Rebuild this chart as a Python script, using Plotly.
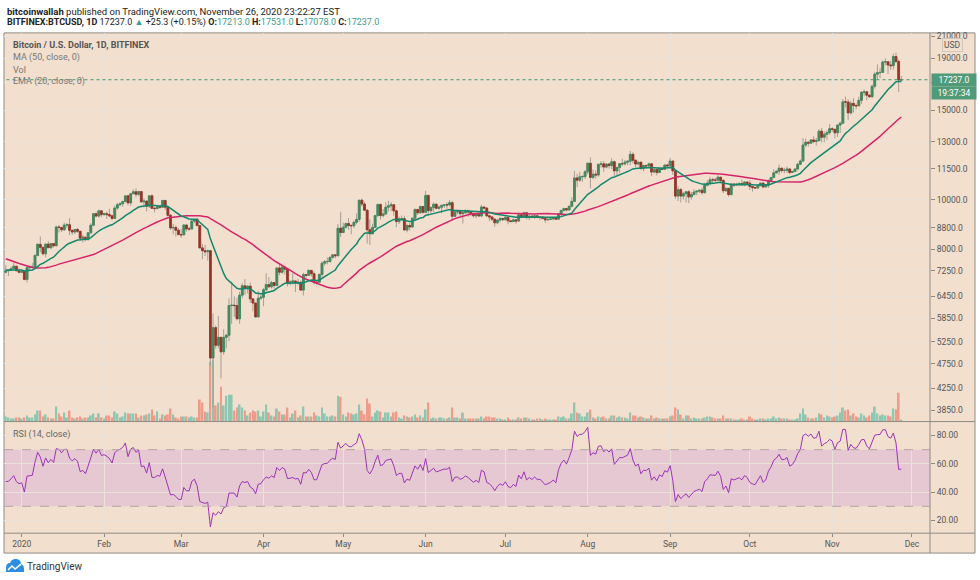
import numpy as np
import pandas as pd
import plotly.graph_objects as go

# ---------------- DATA (BITFINEX:BTCUSD, 1D) ----------------
# closes of the 50 sessions before the first visible candle (Nov 6 - Dec 25, 2019), used for MA/EMA/RSI warm-up
warmup_close = [9340, 9200, 8770, 8810, 9040, 8720, 8810, 8760, 8630, 8460, 8490, 8500, 8180, 8120, 8080,
                7620, 7280, 7330, 6900, 7150, 7170, 7520, 7430, 7760, 7570,
                7410, 7300, 7300, 7200, 7400, 7550, 7510, 7530, 7350, 7230, 7200, 7210, 7260, 7070, 7110,
                6880, 6620, 7290, 7150, 7190, 7150, 7520, 7320, 7260, 7200]

first_day = "2019-12-26"

open_ = (
    [7200, 7250, 7260, 7320, 7400, 7250] +
    [7200, 7220, 6970, 7350, 7360, 7370, 7770, 8170, 8060, 7830, 8180, 8050, 8200, 8120, 8840, 8820, 8730, 8920, 8930, 8710,
     8640, 8740, 8670, 8400, 8440, 8350, 8610, 8910, 9390, 9290, 9510] +
    [9350, 9390, 9350, 9300, 9190, 9630, 9780, 9820, 9920, 10180, 9860, 10280, 10370, 10250, 10380, 9910, 9940, 9710, 10180, 9620,
     9610, 9690, 9670, 9970, 9670, 9320, 8800, 8820, 8710] +
    [8540, 8530, 8920, 8760, 8760, 9080, 9160, 8900, 8040, 7940, 7900, 7940, 4880, 5600, 5170, 5360, 5020, 5360, 5410, 6190,
     6200, 6190, 5830, 6490, 6770, 6700, 6760, 6380, 6260, 5880, 6400] +
    [6430, 6650, 6810, 6740, 6870, 6780, 7340, 7200, 7370, 7300, 6870, 6890, 6920, 6860, 6880, 6640, 7120, 7100, 7260, 7150,
     6880, 6880, 7130, 7500, 7550, 7560, 7700, 7790, 7760, 8790] +
    [8620, 8830, 8980, 8900, 8890, 9030, 9150, 9980, 9810, 9540, 8730, 8570, 8820, 9310, 9790, 9310, 9380, 9670, 9730, 9780,
     9510, 9060, 9170, 9180, 8720, 8900, 8840, 9200, 9570, 9430, 9700] +
    [9450, 10200, 9520, 9660, 9800, 9620, 9670, 9750, 9780, 9770, 9870, 9280, 9470, 9480, 9390, 9430, 9520, 9460, 9380, 9300,
     9360, 9290, 9680, 9630, 9300, 9250, 9160, 9010, 9120, 9190] +
    [9140, 9230, 9090, 9060, 9130, 9080, 9340, 9250, 9430, 9230, 9290, 9240, 9300, 9240, 9250, 9190, 9130, 9150, 9170, 9210,
     9160, 9390, 9530, 9610, 9550, 9710, 9930, 11040, 10930, 11100, 11110] +
    [11350, 11800, 11070, 11230, 11190, 11740, 11770, 11600, 11760, 11680, 11880, 11400, 11580, 11780, 11770, 11860, 11910, 12290, 11960, 11760,
     11860, 11520, 11680, 11660, 11770, 11340, 11470, 11320, 11540, 11480, 11710] +
    [11660, 11920, 11400, 10170, 10470, 10170, 10280, 10370, 10130, 10240, 10360, 10400, 10440, 10330, 10680, 10790, 10950, 10940, 10930, 11080,
     10920, 10420, 10530, 10240, 10740, 10690, 10730, 10770, 10700, 10840] +
    [10780, 10620, 10570, 10550, 10670, 10790, 10600, 10670, 10920, 11060, 11300, 11380, 11540, 11420, 11430, 11500, 11320, 11370, 11500, 11750,
     11920, 12820, 12980, 12930, 13120, 13030, 13070, 13650, 13280, 13460, 13560] +
    [13800, 13760, 13550, 14030, 14150, 15590, 15580, 14830, 15480, 15330, 15310, 15700, 16280, 16320, 16070, 15960, 16730, 17680, 17800, 17820,
     18680, 18700, 18430, 18370, 19150, 18730, 17213]
)

high_ = (
    [7430, 7300, 7380, 7520, 7420, 7330] +
    [7260, 7230, 7410, 7420, 7510, 7800, 8220, 8470, 8070, 8190, 8290, 8200, 8200, 8900, 8920, 8840, 9020, 9000, 9200, 8720,
     8760, 8800, 8680, 8530, 8450, 8620, 8990, 9400, 9440, 9570, 9520] +
    [9440, 9480, 9600, 9340, 9740, 9860, 9880, 9960, 10190, 10180, 10300, 10480, 10530, 10400, 10390, 10070, 9970, 10200, 10260, 9680,
     9770, 9710, 9990, 10000, 9680, 9380, 8960, 8900, 8800] +
    [8760, 8960, 8940, 8850, 9150, 9180, 9200, 8900, 8180, 8150, 7980, 7960, 5970, 5660, 5900, 5370, 5560, 5450, 6400, 6900,
     6450, 6420, 6590, 6850, 6980, 6790, 6870, 6400, 6270, 6610, 6520] +
    [6700, 7170, 7040, 6920, 6880, 7360, 7470, 7420, 7380, 7300, 6950, 7200, 6930, 6990, 6930, 7180, 7150, 7300, 7270, 7220,
     6950, 7150, 7560, 7610, 7700, 7730, 7800, 7820, 8960, 9470] +
    [9020, 9020, 9200, 8950, 9100, 9400, 9990, 10050, 9910, 9570, 9150, 8970, 9340, 9830, 9830, 9590, 9890, 9960, 9890, 9810,
     9560, 9270, 9310, 9300, 8980, 9010, 9220, 9620, 9600, 9740, 9700] +
    [10420, 10230, 9690, 9880, 9850, 9740, 9790, 9800, 9880, 9990, 9950, 9540, 9500, 9490, 9540, 9580, 9550, 9480, 9440, 9400,
     9420, 9780, 9690, 9670, 9330, 9290, 9190, 9130, 9230, 9200] +
    [9300, 9270, 9130, 9190, 9140, 9370, 9370, 9470, 9440, 9310, 9300, 9340, 9340, 9280, 9270, 9210, 9190, 9200, 9230, 9220,
     9420, 9550, 9650, 9640, 9740, 10120, 11400, 11250, 11350, 11180, 11450] +
    [11860, 12120, 11480, 11420, 11800, 11910, 11920, 11800, 11820, 12070, 11950, 11620, 11800, 12050, 11980, 11950, 12480, 12400, 12020, 11900,
     11880, 11690, 11720, 11830, 11780, 11540, 11590, 11560, 11580, 11720, 11780] +
    [12090, 11930, 11450, 10630, 10560, 10360, 10400, 10440, 10350, 10500, 10420, 10480, 10570, 10800, 10930, 11100, 11050, 11050, 11180, 11080,
     10990, 10580, 10550, 10790, 10780, 10800, 10800, 10960, 10870, 10850] +
    [10930, 10640, 10600, 10690, 10800, 10800, 10690, 10950, 11100, 11490, 11440, 11730, 11560, 11560, 11630, 11540, 11400, 11520, 11820, 12010,
     13220, 13200, 13030, 13160, 13340, 13240, 13790, 13860, 13630, 13690, 14100] +
    [13900, 13820, 14070, 14250, 15790, 15970, 15770, 15660, 15850, 15470, 15960, 16350, 16480, 16330, 16140, 16870, 17860, 18480, 18200, 18800,
     18980, 18750, 18780, 19400, 19490, 18900, 17531]
)

low_ = (
    [7160, 7080, 7240, 7300, 7220, 7160] +
    [7170, 6940, 6870, 7280, 7340, 7370, 7740, 7880, 7770, 7700, 8030, 7990, 8060, 8100, 8620, 8640, 8690, 8800, 8520, 8530,
     8560, 8610, 8300, 8240, 8280, 8310, 8580, 8880, 9230, 9220, 9240] +
    [9310, 9170, 9240, 9110, 9170, 9560, 9710, 9690, 9900, 9760, 9740, 10260, 10120, 10170, 9860, 9660, 9480, 9640, 9610, 9450,
     9580, 9600, 9660, 9550, 9270, 8720, 8550, 8460, 8530] +
    [8420, 8520, 8660, 8680, 8760, 9000, 8870, 8050, 7640, 7750, 7590, 4700, 3900, 5090, 5100, 4450, 4950, 5100, 5270, 5700,
     5880, 5790, 5700, 6400, 6490, 6540, 6270, 6030, 5860, 5870, 6350] +
    [6170, 6590, 6720, 6690, 6680, 6770, 7100, 7150, 7120, 6750, 6780, 6810, 6580, 6800, 6620, 6480, 6990, 7080, 7060, 6810,
     6800, 6870, 7040, 7420, 7460, 7520, 7660, 7670, 7740, 8450] +
    [8620, 8780, 8730, 8550, 8800, 8950, 9050, 9700, 9520, 8200, 8150, 8570, 8800, 9260, 9140, 9230, 9340, 9480, 9500, 9300,
     8830, 8960, 9090, 8710, 8630, 8700, 8810, 9110, 9340, 9380, 9400] +
    [9420, 9300, 9380, 9460, 9580, 9560, 9410, 9630, 9600, 9700, 9100, 9250, 9360, 9280, 8980, 9380, 9260, 9290, 9230, 9200,
     9270, 9290, 9570, 9240, 9080, 9080, 8850, 8950, 9030, 9080] +
    [9100, 8950, 9040, 9060, 8970, 9060, 9220, 9240, 9150, 9120, 9200, 9170, 9200, 9110, 9160, 9010, 9090, 9120, 9110, 9130,
     9150, 9270, 9470, 9480, 9530, 9660, 9920, 10600, 10850, 10840, 10990] +
    [11220, 10540, 10970, 11000, 11100, 11580, 11360, 11530, 11520, 11500, 11140, 11160, 11280, 11650, 11680, 11700, 11700, 11800, 11590, 11690,
     11470, 11380, 11520, 11600, 11150, 11270, 11170, 11290, 11450, 11470, 11560] +
    [11540, 11200, 10050, 9950, 9880, 10010, 9880, 9850, 10010, 10200, 10210, 10300, 10230, 10280, 10630, 10680, 10750, 10820, 10890, 10780,
     10300, 10360, 10150, 10200, 10590, 10650, 10630, 10660, 10640, 10690] +
    [10450, 10380, 10500, 10520, 10630, 10540, 10560, 10550, 10840, 11050, 11260, 11200, 11300, 11280, 11300, 11220, 11300, 11350, 11420, 11700,
     11900, 12700, 12730, 12900, 12920, 12790, 13060, 12970, 12990, 13120, 13440] +
    [13610, 13220, 13300, 13540, 14110, 15200, 14370, 14720, 14850, 15080, 15290, 15450, 15990, 15710, 15870, 15880, 16560, 17220, 17370, 17770,
     18400, 17680, 18030, 18050, 18580, 16300, 17078]
)

close_ = (
    [7250, 7260, 7320, 7400, 7250, 7200] +
    [7220, 6970, 7350, 7360, 7370, 7770, 8170, 8060, 7830, 8180, 8050, 8200, 8120, 8840, 8820, 8730, 8920, 8930, 8710, 8640,
     8740, 8670, 8400, 8440, 8350, 8610, 8910, 9390, 9290, 9510, 9350] +
    [9390, 9350, 9300, 9190, 9630, 9780, 9820, 9920, 10180, 9860, 10280, 10370, 10250, 10380, 9910, 9940, 9710, 10180, 9620, 9610,
     9690, 9670, 9970, 9670, 9320, 8800, 8820, 8710, 8540] +
    [8530, 8920, 8760, 8760, 9080, 9160, 8900, 8040, 7940, 7900, 7940, 4880, 5600, 5170, 5360, 5020, 5360, 5410, 6190, 6200,
     6190, 5830, 6490, 6770, 6700, 6760, 6380, 6260, 5880, 6400, 6430] +
    [6650, 6810, 6740, 6870, 6780, 7340, 7200, 7370, 7300, 6870, 6890, 6920, 6860, 6880, 6640, 7120, 7100, 7260, 7150, 6880,
     6880, 7130, 7500, 7550, 7560, 7700, 7790, 7760, 8790, 8620] +
    [8830, 8980, 8900, 8890, 9030, 9150, 9980, 9810, 9540, 8730, 8570, 8820, 9310, 9790, 9310, 9380, 9670, 9730, 9780, 9510,
     9060, 9170, 9180, 8720, 8900, 8840, 9200, 9570, 9430, 9700, 9450] +
    [10200, 9520, 9660, 9800, 9620, 9670, 9750, 9780, 9770, 9870, 9280, 9470, 9480, 9390, 9430, 9520, 9460, 9380, 9300, 9360,
     9290, 9680, 9630, 9300, 9250, 9160, 9010, 9120, 9190, 9140] +
    [9230, 9090, 9060, 9130, 9080, 9340, 9250, 9430, 9230, 9290, 9240, 9300, 9240, 9250, 9190, 9130, 9150, 9170, 9210, 9160,
     9390, 9530, 9610, 9550, 9710, 9930, 11040, 10930, 11100, 11110, 11350] +
    [11800, 11070, 11230, 11190, 11740, 11770, 11600, 11760, 11680, 11880, 11400, 11580, 11780, 11770, 11860, 11910, 12290, 11960, 11760, 11860,
     11520, 11680, 11660, 11770, 11340, 11470, 11320, 11540, 11480, 11710, 11660] +
    [11920, 11400, 10170, 10470, 10170, 10280, 10370, 10130, 10240, 10360, 10400, 10440, 10330, 10680, 10790, 10950, 10940, 10930, 11080, 10920,
     10420, 10530, 10240, 10740, 10690, 10730, 10770, 10700, 10840, 10780] +
    [10620, 10570, 10550, 10670, 10790, 10600, 10670, 10920, 11060, 11300, 11380, 11540, 11420, 11430, 11500, 11320, 11370, 11500, 11750, 11920,
     12820, 12980, 12930, 13120, 13030, 13070, 13650, 13280, 13460, 13560, 13800] +
    [13760, 13550, 14030, 14150, 15590, 15580, 14830, 15480, 15330, 15310, 15700, 16280, 16320, 16070, 15960, 16730, 17680, 17800, 17820, 18680,
     18700, 18430, 18370, 19150, 18730, 17212, 17237]
)

# daily volume (thousand BTC)
volume = (
    [5, 4, 3, 3, 4, 4] +
    [3, 4, 6, 4, 4, 7, 11, 11, 5, 7, 4, 3, 3, 15, 8, 5, 9, 4, 11, 4, 3, 4, 5, 3, 4, 4, 6, 8, 4, 8, 4] +
    [3, 6, 6, 4, 10, 8, 4, 5, 9, 8, 8, 8, 8, 4, 6, 6, 7, 8, 12, 6, 10, 3, 7, 6, 7, 13, 7, 4, 3] +
    [5, 5, 5, 4, 5, 4, 4, 22, 19, 10, 9, 60, 62, 16, 19, 35, 16, 26, 27, 27, 11, 14, 17, 14, 11, 6, 9, 11, 10, 11, 5] +
    [10, 17, 9, 6, 5, 13, 10, 7, 7, 14, 4, 8, 11, 4, 6, 15, 5, 5, 5, 9, 6, 5, 14, 8, 5, 5, 6, 5, 26, 25] +
    [7, 5, 9, 8, 7, 8, 17, 11, 7, 23, 18, 5, 9, 11, 10, 4, 9, 9, 5, 9, 10, 4, 3, 6, 5, 4, 5, 7, 4, 6, 4] +
    [12, 19, 3, 4, 3, 4, 4, 3, 3, 4, 14, 4, 4, 3, 9, 3, 3, 3, 3, 3, 3, 5, 3, 5, 5, 4, 4, 3, 3, 2] +
    [2, 4, 2, 2, 2, 4, 3, 4, 4, 3, 2, 2, 3, 3, 2, 3, 2, 2, 2, 2, 5, 4, 5, 3, 3, 8, 19, 9, 8, 5, 5] +
    [9, 12, 4, 3, 5, 4, 5, 3, 3, 6, 6, 4, 5, 4, 4, 3, 9, 6, 6, 4, 5, 4, 3, 3, 6, 3, 4, 3, 3, 3, 3] +
    [5, 6, 14, 12, 7, 3, 6, 6, 3, 4, 3, 3, 3, 4, 5, 5, 4, 3, 3, 3, 6, 3, 3, 3, 2, 2, 2, 3, 2, 2] +
    [5, 3, 2, 2, 3, 3, 2, 3, 3, 5, 3, 4, 3, 3, 3, 2, 2, 2, 3, 8, 13, 7, 4, 3, 3, 4, 8, 7, 4, 6, 5] +
    [4, 5, 6, 9, 14, 11, 12, 6, 8, 5, 4, 8, 6, 4, 6, 9, 15, 8, 6, 7, 6, 6, 5, 13, 12, 29, 2]
)

price_ticks = [3850, 4250, 4750, 5250, 5850, 6450, 7250, 8000, 8800, 10000, 11500, 13000, 15000, 17000, 19000, 21000]
rsi_ticks = [20, 40, 60, 80]
month_ticks = ["2020-01-01", "2020-02-01", "2020-03-01", "2020-04-01", "2020-05-01", "2020-06-01",
               "2020-07-01", "2020-08-01", "2020-09-01", "2020-10-01", "2020-11-01", "2020-12-01"]
month_labels = ["2020", "Feb", "Mar", "Apr", "May", "Jun", "Jul", "Aug", "Sep", "Oct", "Nov", "Dec"]

n = len(close_)
assert len(open_) == n and len(high_) == n and len(low_) == n and len(volume) == n
dates = pd.date_range(first_day, periods=n, freq="D")

# ---------------- INDICATORS ----------------
allc = pd.Series(warmup_close + close_, dtype=float)
w = len(warmup_close)
ma50 = allc.rolling(50).mean().values[w:]
ema20 = allc.ewm(span=20, adjust=False).mean().values[w:]
delta = allc.diff()
gain = delta.clip(lower=0).fillna(0)
loss = (-delta.clip(upper=0)).fillna(0)
avg_g = gain.ewm(alpha=1 / 14, adjust=False).mean()
avg_l = loss.ewm(alpha=1 / 14, adjust=False).mean()
rsi = (100 - 100 / (1 + avg_g / avg_l)).values[w:]

# ---------------- STYLE ----------------
W, H = 980, 580
BG = "#f2dfcd"
GRID = "#e9e2db"
FRAME = "#8f8a85"
UP, DN = "#3f8a5e", "#983424"
WICK = "#a59e96"
UPV, DNV = "#8dc6b1", "#f09a8a"
MA_C, EMA_C = "#d5246a", "#14876d"
RSI_C = "#9b33b6"
TXT = "#4a4a4a"
LAST_C = "#4f9a78"
FONT = "Roboto"


def px(x):
    return x / W


def py(y):
    return 1 - y / H


X0, X1 = 4, 930           # plot area (pixels)
P_TOP, P_BOT = 31, 421    # price pane
R_BOT = 533               # rsi pane bottom / x axis

fig = go.Figure()

# volume (main y, linear, behind price)
vcol = [UPV if c >= o else DNV for o, c in zip(open_, close_)]
fig.add_trace(go.Bar(x=dates, y=volume, marker_color=vcol, marker_line_width=0,
                     width=0.68 * 86400000, xaxis="x", yaxis="y", hoverinfo="skip", showlegend=False))

# moving averages
fig.add_trace(go.Scatter(x=dates, y=ma50, mode="lines", line=dict(color=MA_C, width=1.5),
                         xaxis="x", yaxis="y3", hoverinfo="skip", showlegend=False))
fig.add_trace(go.Scatter(x=dates, y=ema20, mode="lines", line=dict(color=EMA_C, width=1.5),
                         xaxis="x", yaxis="y3", hoverinfo="skip", showlegend=False))

# candle wicks
fig.add_trace(go.Candlestick(x=dates, open=open_, high=high_, low=low_, close=close_,
                             increasing=dict(line=dict(color=WICK, width=1), fillcolor=WICK),
                             decreasing=dict(line=dict(color=WICK, width=1), fillcolor=WICK),
                             whiskerwidth=0, xaxis="x", yaxis="y3", hoverinfo="skip", showlegend=False))
# candle bodies
body_hi = [max(o, c) for o, c in zip(open_, close_)]
body_lo = [min(o, c) for o, c in zip(open_, close_)]
fig.add_trace(go.Candlestick(x=dates, open=open_, high=body_hi, low=body_lo, close=close_,
                             increasing=dict(line=dict(color=UP, width=0.8), fillcolor=UP),
                             decreasing=dict(line=dict(color=DN, width=0.8), fillcolor=DN),
                             whiskerwidth=0, xaxis="x", yaxis="y3", hoverinfo="skip", showlegend=False))

# last price dotted line
fig.add_trace(go.Scatter(x=[dates[0] - pd.Timedelta(days=2), dates[-1] + pd.Timedelta(days=14)],
                         y=[close_[-1], close_[-1]], mode="lines",
                         line=dict(color="#3f9a72", width=1, dash="dot"),
                         xaxis="x", yaxis="y3", hoverinfo="skip", showlegend=False))

# RSI
fig.add_trace(go.Scatter(x=dates, y=rsi, mode="lines", line=dict(color=RSI_C, width=1),
                         xaxis="x", yaxis="y2", hoverinfo="skip", showlegend=False))

x_range = ["2019-12-25 08:00", "2020-12-07 19:00"]
lp0 = np.log10(3850) - (421 - 409.7) / 509.6
lp1 = np.log10(21000) + (34.3 - 31) / 509.6

fig.update_layout(
    width=W, height=H, margin=dict(l=0, r=0, t=0, b=0),
    paper_bgcolor="white", plot_bgcolor=BG,
    font=dict(family=FONT, size=9, color=TXT),
    showlegend=False, barmode="overlay", boxgap=0.25, boxgroupgap=0.1,
    xaxis=dict(domain=[px(X0), px(X1)], anchor="y2", type="date", range=x_range,
               tickvals=month_ticks, ticktext=month_labels, showgrid=True, gridcolor=GRID, gridwidth=1,
               ticks="outside", ticklen=3, tickcolor=FRAME, showline=False, zeroline=False,
               tickfont=dict(size=8.5, color="#555555", family=FONT),
               rangeslider=dict(visible=False)),
    yaxis=dict(domain=[py(P_BOT), py(P_TOP)], anchor="x", range=[0, max(volume) * 390 / 62],
               visible=False, showgrid=False, zeroline=False),
    yaxis3=dict(overlaying="y", anchor="x", side="right", type="log", range=[lp0, lp1],
                tickvals=price_ticks, ticktext=[("" if v == 17000 else f"{v:.1f}") for v in price_ticks],
                showgrid=True, gridcolor=GRID, gridwidth=1, zeroline=False,
                ticks="outside", ticklen=4, tickcolor=FRAME, showline=False,
                tickfont=dict(size=8.5, color="#555555", family=FONT)),
    yaxis2=dict(domain=[py(R_BOT), py(P_BOT)], anchor="x", side="right", range=[11.07, 89.85],
                tickvals=rsi_ticks, ticktext=[f"{v:.2f}" for v in rsi_ticks],
                showgrid=True, gridcolor=GRID, gridwidth=1, zeroline=False,
                ticks="outside", ticklen=4, tickcolor=FRAME, showline=False,
                tickfont=dict(size=8.5, color="#555555", family=FONT)),
)

shapes = [
    # chart frame
    dict(type="rect", xref="paper", yref="paper", x0=px(4), x1=px(975), y0=py(553), y1=py(P_TOP),
         fillcolor=BG, line=dict(color=FRAME, width=1), layer="below"),
    # RSI band
    dict(type="rect", xref="paper", yref="y2", x0=px(X0), x1=px(X1), y0=30, y1=70,
         fillcolor="rgba(202,150,222,0.30)", line=dict(width=0), layer="below"),
    dict(type="line", xref="paper", yref="y2", x0=px(X0), x1=px(X1), y0=70, y1=70,
         line=dict(color="#b3a6a8", width=1, dash="dash")),
    dict(type="line", xref="paper", yref="y2", x0=px(X0), x1=px(X1), y0=30, y1=30,
         line=dict(color="#b3a6a8", width=1, dash="dash")),
    # separators / axis lines
    dict(type="line", xref="paper", yref="paper", x0=px(4), x1=px(975), y0=py(P_BOT), y1=py(P_BOT),
         line=dict(color=FRAME, width=1)),
    dict(type="line", xref="paper", yref="paper", x0=px(4), x1=px(975), y0=py(R_BOT), y1=py(R_BOT),
         line=dict(color=FRAME, width=1)),
    dict(type="line", xref="paper", yref="paper", x0=px(X1), x1=px(X1), y0=py(553), y1=py(P_TOP),
         line=dict(color=FRAME, width=1)),
]

# TradingView logo (small cloud mark)
cloud = (f"M {px(6)},{py(572)} L {px(6)},{py(568)} Q {px(6)},{py(563)} {px(10)},{py(563)} "
         f"Q {px(12)},{py(558)} {px(17)},{py(559)} Q {px(21)},{py(560)} {px(21)},{py(564)} "
         f"Q {px(24)},{py(565)} {px(24)},{py(569)} L {px(24)},{py(572)} Z")
shapes.append(dict(type="path", xref="paper", yref="paper", path=cloud, fillcolor="#2c8ee0", line=dict(width=0)))
zig = f"M {px(8)},{py(570)} L {px(12)},{py(566)} L {px(15)},{py(569)} L {px(21)},{py(564)}"
shapes.append(dict(type="path", xref="paper", yref="paper", path=zig, line=dict(color="white", width=1.5)))
fig.update_layout(shapes=shapes)

VALC = "#3a9e8c"
ann = [
    dict(x=px(5), y=py(10), xref="paper", yref="paper", xanchor="left", yanchor="middle", showarrow=False,
         text="<b>bitcoinwallah</b> published on TradingView.com, November 26, 2020 23:22:27 EST",
         font=dict(size=9.5, color="#222222")),
    dict(x=px(5), y=py(21), xref="paper", yref="paper", xanchor="left", yanchor="middle", showarrow=False,
         text=(f"<b>BITFINEX:BTCUSD, 1D</b> {close_[-1]:.1f} <span style='color:{VALC}'>▲</span> +25.3 (+0.15%) "
               f"<b>O:</b><span style='color:{VALC}'>{open_[-1]:.1f}</span> "
               f"<b>H:</b><span style='color:{VALC}'>{high_[-1]:.1f}</span> "
               f"<b>L:</b><span style='color:{VALC}'>{low_[-1]:.1f}</span> "
               f"<b>C:</b><span style='color:{VALC}'>{close_[-1]:.1f}</span>"),
         font=dict(size=9, color="#222222")),
    dict(x=px(11), y=py(43), xref="paper", yref="paper", xanchor="left", yanchor="middle", showarrow=False,
         text="<b>Bitcoin / U.S. Dollar, 1D, BITFINEX</b>", font=dict(size=9, color="#555555")),
    dict(x=px(11), y=py(56), xref="paper", yref="paper", xanchor="left", yanchor="middle", showarrow=False,
         text="MA (50, close, 0)", font=dict(size=9, color="#777777")),
    dict(x=px(11), y=py(68), xref="paper", yref="paper", xanchor="left", yanchor="middle", showarrow=False,
         text="Vol", font=dict(size=9, color="#777777")),
    dict(x=px(11), y=py(80), xref="paper", yref="paper", xanchor="left", yanchor="middle", showarrow=False,
         text="EMA (20, close, 0)", font=dict(size=9, color="#777777")),
    dict(x=px(11), y=py(434), xref="paper", yref="paper", xanchor="left", yanchor="middle", showarrow=False,
         text="RSI (14, close)", font=dict(size=9, color="#666666")),
    # last price boxes
    dict(x=px(X1 + 1), y=np.log10(close_[-1]), xref="paper", yref="y3", xanchor="left", yanchor="middle",
         showarrow=False, text=f"{close_[-1]:.1f}", bgcolor=LAST_C, width=42, height=10,
         font=dict(size=8.5, color="white"), borderpad=1),
    dict(x=px(X1 + 1), y=np.log10(close_[-1]), yshift=-13, xref="paper", yref="y3", xanchor="left", yanchor="middle",
         showarrow=False, text="19:37:34", bgcolor=LAST_C, width=42, height=10,
         font=dict(size=8.5, color="white"), borderpad=1),
    dict(x=px(952), y=py(43), xref="paper", yref="paper", xanchor="center", yanchor="middle", showarrow=False,
         text="USD", bgcolor=BG, bordercolor="#cfc6bd", borderwidth=1, borderpad=1,
         font=dict(size=8.5, color="#555555")),
    dict(x=px(25), y=py(566), xref="paper", yref="paper", xanchor="left", yanchor="middle", showarrow=False,
         text="TradingView", font=dict(size=10, color="#333333")),
]
fig.update_layout(annotations=ann)

fig.write_html("out.html", config={"displayModeBar": False},
               post_script="document.body.style.margin='0';document.body.style.overflow='hidden';")
